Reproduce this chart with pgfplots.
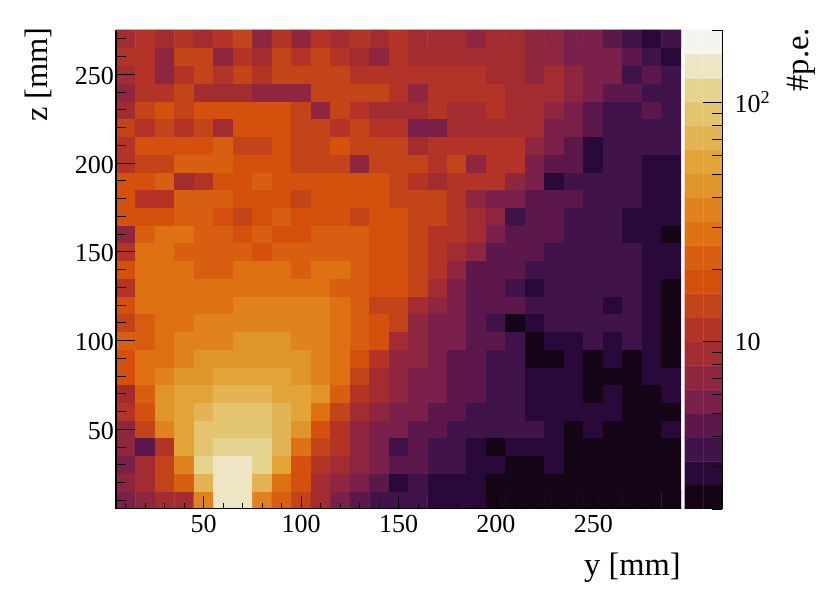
\documentclass[border=0pt]{standalone}
\usepackage{fontspec}
\setmainfont{Liberation Serif}
\usepackage{pgfplots}
\pgfplotsset{compat=1.18}

\pgfplotsset{
  colormap={pe}{
    rgb255=(21,5,22) rgb255=(40,9,58) rgb255=(64,19,74) rgb255=(92,24,74)
    rgb255=(122,32,75) rgb255=(142,38,63) rgb255=(163,44,48) rgb255=(179,52,38)
    rgb255=(196,68,26) rgb255=(213,80,12) rgb255=(216,95,16) rgb255=(222,114,19)
    rgb255=(224,131,30) rgb255=(224,149,42) rgb255=(227,164,55) rgb255=(227,180,85)
    rgb255=(227,196,111) rgb255=(229,212,143) rgb255=(237,229,195) rgb255=(243,244,238)
  },
  colormap access=piecewise constant,
  every axis/.append style={
    scale only axis,
    axis on top,
    enlargelimits=false,
    tick style={black,line width=0.8pt},
    axis line style={line width=1.3pt,-},
    tick label style={font=\fontsize{26}{30}\selectfont},
    label style={font=\fontsize{32.5}{36}\selectfont,inner sep=0pt},
    point meta min=0.30103,
    point meta max=2.30103,
  },
}

\begin{document}
\begin{tikzpicture}[x=1pt,y=1pt]
\path[use as bounding box] (0,0) rectangle (830,599);

\begin{axis}[
  at={(116pt,90.4pt)}, anchor=south west,
  width=565pt, height=478.7pt,
  xmin=5, xmax=295, ymin=5, ymax=275,
  axis x line*=bottom, hide y axis,
  xtick={50,100,150,200,250},
  xticklabels={50,100,150,200,250},
  minor xtick={10,20,...,290},
  tickwidth=13pt, subtickwidth=6pt,
  tick align=inside,
  xticklabel style={yshift=-3pt},
  xlabel={y [mm]},
  x label style={at={(rel axis cs:1,0)},anchor=base east,yshift=-67pt},
]
% one line per z bin, z = 10 first
\addplot[matrix plot*, mesh/cols=29, point meta=explicit]
  table[row sep=\\,
        x expr={10+10*mod(\coordindex,29)},
        y expr={10+10*floor((\coordindex+0.5)/29)},
        meta expr={log10(\thisrow{pe})}] {
pe\\
5.6\\ 7.1\\ 8.9\\ 8.9\\ 35\\ 141\\ 141\\ 35\\ 22\\ 14\\ 8.9\\ 5.6\\ 4.5\\ 3.5\\ 3.5\\ 3.5\\ 2.8\\ 2.8\\ 2.8\\ 2.2\\ 2.2\\ 2.2\\ 2.2\\ 2.2\\ 2.2\\ 2.2\\ 2.2\\ 2.2\\ 2.2\\
7.1\\ 8.9\\ 14\\ 22\\ 71\\ 141\\ 141\\ 71\\ 28\\ 18\\ 8.9\\ 7.1\\ 5.6\\ 4.5\\ 2.8\\ 3.5\\ 2.8\\ 2.8\\ 2.8\\ 2.2\\ 2.2\\ 2.2\\ 2.2\\ 2.2\\ 2.2\\ 2.2\\ 2.2\\ 2.2\\ 2.2\\
5.6\\ 8.9\\ 14\\ 35\\ 112\\ 141\\ 141\\ 112\\ 56\\ 18\\ 11\\ 8.9\\ 7.1\\ 5.6\\ 4.5\\ 4.5\\ 3.5\\ 3.5\\ 2.8\\ 2.8\\ 2.2\\ 2.2\\ 2.8\\ 2.2\\ 2.2\\ 2.2\\ 2.2\\ 2.2\\ 2.2\\
7.1\\ 4.5\\ 11\\ 56\\ 89\\ 112\\ 112\\ 112\\ 71\\ 28\\ 14\\ 11\\ 7.1\\ 5.6\\ 3.5\\ 4.5\\ 3.5\\ 3.5\\ 2.8\\ 2.2\\ 2.8\\ 2.8\\ 2.8\\ 2.2\\ 2.2\\ 2.2\\ 2.2\\ 2.2\\ 2.2\\
7.1\\ 14\\ 35\\ 56\\ 89\\ 89\\ 89\\ 89\\ 71\\ 45\\ 18\\ 11\\ 7.1\\ 5.6\\ 5.6\\ 4.5\\ 4.5\\ 3.5\\ 3.5\\ 3.5\\ 3.5\\ 3.5\\ 2.8\\ 2.2\\ 2.8\\ 2.2\\ 2.2\\ 2.2\\ 2.8\\
11\\ 18\\ 45\\ 56\\ 71\\ 89\\ 89\\ 89\\ 71\\ 56\\ 28\\ 14\\ 8.9\\ 7.1\\ 5.6\\ 5.6\\ 4.5\\ 4.5\\ 3.5\\ 3.5\\ 3.5\\ 2.8\\ 2.8\\ 2.8\\ 2.8\\ 2.8\\ 2.2\\ 2.2\\ 2.2\\
8.9\\ 22\\ 45\\ 56\\ 56\\ 71\\ 71\\ 71\\ 56\\ 56\\ 45\\ 22\\ 11\\ 8.9\\ 7.1\\ 5.6\\ 5.6\\ 4.5\\ 4.5\\ 3.5\\ 3.5\\ 2.8\\ 2.8\\ 2.8\\ 2.2\\ 2.8\\ 2.2\\ 2.2\\ 2.8\\
18\\ 28\\ 35\\ 45\\ 45\\ 56\\ 56\\ 56\\ 56\\ 45\\ 35\\ 28\\ 14\\ 8.9\\ 7.1\\ 5.6\\ 5.6\\ 4.5\\ 4.5\\ 3.5\\ 3.5\\ 2.8\\ 2.8\\ 2.8\\ 2.2\\ 2.2\\ 2.2\\ 2.8\\ 2.8\\
18\\ 28\\ 28\\ 35\\ 45\\ 45\\ 45\\ 45\\ 45\\ 45\\ 35\\ 28\\ 18\\ 11\\ 7.1\\ 7.1\\ 5.6\\ 4.5\\ 4.5\\ 3.5\\ 3.5\\ 2.2\\ 2.2\\ 2.8\\ 2.2\\ 2.8\\ 2.2\\ 2.8\\ 2.2\\
22\\ 22\\ 28\\ 35\\ 35\\ 35\\ 45\\ 45\\ 45\\ 35\\ 35\\ 28\\ 22\\ 18\\ 8.9\\ 7.1\\ 5.6\\ 5.6\\ 4.5\\ 4.5\\ 3.5\\ 2.2\\ 2.8\\ 2.8\\ 3.5\\ 2.8\\ 3.5\\ 2.8\\ 2.2\\
14\\ 22\\ 28\\ 28\\ 35\\ 35\\ 35\\ 35\\ 35\\ 35\\ 35\\ 28\\ 22\\ 18\\ 14\\ 7.1\\ 5.6\\ 5.6\\ 4.5\\ 3.5\\ 2.2\\ 2.8\\ 3.5\\ 3.5\\ 3.5\\ 3.5\\ 3.5\\ 2.8\\ 2.2\\
18\\ 28\\ 28\\ 28\\ 28\\ 28\\ 35\\ 35\\ 35\\ 35\\ 35\\ 28\\ 22\\ 14\\ 14\\ 8.9\\ 7.1\\ 5.6\\ 4.5\\ 4.5\\ 4.5\\ 3.5\\ 3.5\\ 3.5\\ 3.5\\ 2.8\\ 3.5\\ 2.8\\ 2.2\\
11\\ 28\\ 28\\ 28\\ 28\\ 28\\ 28\\ 28\\ 28\\ 28\\ 28\\ 22\\ 22\\ 18\\ 18\\ 14\\ 8.9\\ 5.6\\ 4.5\\ 4.5\\ 3.5\\ 2.8\\ 3.5\\ 3.5\\ 3.5\\ 3.5\\ 3.5\\ 2.8\\ 2.2\\
18\\ 28\\ 28\\ 28\\ 22\\ 22\\ 28\\ 28\\ 28\\ 22\\ 28\\ 28\\ 22\\ 18\\ 18\\ 14\\ 11\\ 7.1\\ 4.5\\ 4.5\\ 4.5\\ 3.5\\ 3.5\\ 3.5\\ 3.5\\ 3.5\\ 3.5\\ 2.8\\ 2.8\\
11\\ 28\\ 28\\ 22\\ 22\\ 22\\ 22\\ 18\\ 22\\ 22\\ 22\\ 22\\ 22\\ 18\\ 18\\ 14\\ 11\\ 8.9\\ 7.1\\ 4.5\\ 4.5\\ 4.5\\ 3.5\\ 3.5\\ 3.5\\ 3.5\\ 3.5\\ 2.8\\ 2.8\\
7.1\\ 22\\ 28\\ 28\\ 22\\ 22\\ 18\\ 22\\ 18\\ 18\\ 22\\ 22\\ 22\\ 18\\ 18\\ 14\\ 11\\ 11\\ 8.9\\ 5.6\\ 4.5\\ 4.5\\ 4.5\\ 3.5\\ 3.5\\ 3.5\\ 2.8\\ 2.8\\ 2.2\\
18\\ 18\\ 18\\ 22\\ 22\\ 18\\ 14\\ 18\\ 22\\ 18\\ 18\\ 18\\ 14\\ 18\\ 18\\ 14\\ 14\\ 11\\ 8.9\\ 7.1\\ 3.5\\ 4.5\\ 4.5\\ 3.5\\ 3.5\\ 3.5\\ 2.8\\ 2.8\\ 2.8\\
18\\ 11\\ 11\\ 22\\ 22\\ 22\\ 18\\ 18\\ 18\\ 14\\ 18\\ 18\\ 18\\ 18\\ 14\\ 14\\ 14\\ 11\\ 7.1\\ 5.6\\ 5.6\\ 4.5\\ 4.5\\ 4.5\\ 3.5\\ 3.5\\ 3.5\\ 2.8\\ 2.8\\
18\\ 18\\ 22\\ 8.9\\ 11\\ 18\\ 18\\ 22\\ 18\\ 18\\ 18\\ 18\\ 18\\ 18\\ 14\\ 11\\ 8.9\\ 11\\ 11\\ 11\\ 7.1\\ 5.6\\ 2.8\\ 3.5\\ 3.5\\ 3.5\\ 3.5\\ 2.8\\ 2.8\\
11\\ 14\\ 14\\ 22\\ 22\\ 22\\ 18\\ 18\\ 18\\ 14\\ 14\\ 14\\ 7.1\\ 14\\ 14\\ 14\\ 11\\ 14\\ 7.1\\ 11\\ 11\\ 5.6\\ 4.5\\ 4.5\\ 2.8\\ 3.5\\ 3.5\\ 2.8\\ 2.8\\
11\\ 18\\ 18\\ 18\\ 18\\ 22\\ 14\\ 14\\ 18\\ 14\\ 14\\ 18\\ 14\\ 14\\ 14\\ 8.9\\ 11\\ 11\\ 11\\ 11\\ 11\\ 7.1\\ 5.6\\ 4.5\\ 2.8\\ 3.5\\ 3.5\\ 3.5\\ 3.5\\
14\\ 11\\ 14\\ 11\\ 14\\ 8.9\\ 18\\ 18\\ 18\\ 14\\ 14\\ 11\\ 14\\ 11\\ 11\\ 5.6\\ 5.6\\ 8.9\\ 8.9\\ 8.9\\ 8.9\\ 8.9\\ 5.6\\ 5.6\\ 4.5\\ 3.5\\ 3.5\\ 3.5\\ 3.5\\
8.9\\ 14\\ 18\\ 14\\ 18\\ 18\\ 18\\ 18\\ 18\\ 14\\ 7.1\\ 14\\ 11\\ 8.9\\ 8.9\\ 8.9\\ 11\\ 8.9\\ 8.9\\ 11\\ 8.9\\ 8.9\\ 7.1\\ 5.6\\ 4.5\\ 3.5\\ 3.5\\ 4.5\\ 3.5\\
7.1\\ 11\\ 11\\ 14\\ 8.9\\ 8.9\\ 8.9\\ 7.1\\ 7.1\\ 7.1\\ 14\\ 14\\ 14\\ 14\\ 11\\ 7.1\\ 11\\ 11\\ 11\\ 11\\ 8.9\\ 8.9\\ 8.9\\ 7.1\\ 5.6\\ 4.5\\ 4.5\\ 3.5\\ 3.5\\
8.9\\ 11\\ 7.1\\ 11\\ 14\\ 11\\ 14\\ 11\\ 14\\ 14\\ 14\\ 14\\ 11\\ 11\\ 11\\ 11\\ 11\\ 11\\ 11\\ 8.9\\ 8.9\\ 7.1\\ 8.9\\ 7.1\\ 5.6\\ 5.6\\ 3.5\\ 4.5\\ 3.5\\
11\\ 11\\ 7.1\\ 14\\ 14\\ 7.1\\ 11\\ 8.9\\ 14\\ 11\\ 14\\ 11\\ 8.9\\ 7.1\\ 11\\ 8.9\\ 8.9\\ 8.9\\ 8.9\\ 8.9\\ 8.9\\ 7.1\\ 7.1\\ 5.6\\ 5.6\\ 5.6\\ 4.5\\ 3.5\\ 2.8\\
8.9\\ 11\\ 8.9\\ 11\\ 8.9\\ 11\\ 14\\ 7.1\\ 11\\ 7.1\\ 11\\ 8.9\\ 11\\ 8.9\\ 11\\ 8.9\\ 8.9\\ 8.9\\ 7.1\\ 8.9\\ 8.9\\ 7.1\\ 7.1\\ 5.6\\ 5.6\\ 4.5\\ 3.5\\ 2.8\\ 3.5\\
};
\end{axis}

% second frame over the map, only for the longer z ticks
\begin{axis}[
  at={(116pt,90pt)}, anchor=south west,
  width=565pt, height=479pt,
  xmin=5, xmax=295, ymin=5, ymax=275,
  axis y line*=left, hide x axis,
  ytick={50,100,150,200,250},
  yticklabels={50,100,150,200,250},
  minor ytick={10,20,...,270},
  tickwidth=19pt, subtickwidth=10pt,
  tick align=inside,
  yticklabel style={xshift=1.5pt,yshift=-1.5pt},
  ylabel={z [mm]},
  y label style={at={(rel axis cs:0,1)},anchor=base east,xshift=3pt,yshift=68pt},
]
\end{axis}

% colour scale, 20 log bands from 2 to 200
\begin{axis}[
  at={(684.5pt,90pt)}, anchor=south west,
  width=37.5pt, height=479pt,
  xmin=0, xmax=1, ymin=2, ymax=200,
  ymode=log,
  axis y line*=right, hide x axis,
  ytick={10,100},
  yticklabels={10,10\textsuperscript{2}},
  minor ytick={2,3,...,9,20,30,...,90,200},
  tickwidth=19pt, subtickwidth=10pt,
  tick align=inside,
  yticklabel style={xshift=9pt},
  axis line style={line width=1pt},
  ylabel={\#p.e.},
  y label style={at={(rel axis cs:1,1)},anchor=base east,xshift=2pt,yshift=-86pt},
]
\addplot[matrix plot*, mesh/cols=2, point meta=explicit]
  table[row sep=\\,
        x expr={mod(\coordindex,2)},
        y=pe,
        meta expr={log10(\thisrow{pe})}] {
pe\\
2.24\\ 2.24\\ 2.82\\ 2.82\\ 3.55\\ 3.55\\ 4.47\\ 4.47\\ 5.62\\ 5.62\\
7.08\\ 7.08\\ 8.91\\ 8.91\\ 11.2\\ 11.2\\ 14.1\\ 14.1\\ 17.8\\ 17.8\\
22.4\\ 22.4\\ 28.2\\ 28.2\\ 35.5\\ 35.5\\ 44.7\\ 44.7\\ 56.2\\ 56.2\\
70.8\\ 70.8\\ 89.1\\ 89.1\\ 112\\ 112\\ 141\\ 141\\ 178\\ 178\\
};
\end{axis}
\end{tikzpicture}
\end{document}
